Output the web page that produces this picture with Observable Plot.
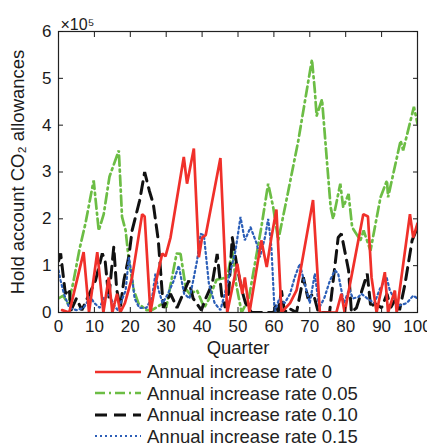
<!DOCTYPE html>
<html>
<head>
<meta charset="utf-8">
<script src="https://cdn.jsdelivr.net/npm/d3@7"></script>
<script src="https://cdn.jsdelivr.net/npm/@observablehq/plot@0.6"></script>
<style>
  body { margin: 0; background: #fff; }
  #legend { margin-left: 95px; font-family: "Liberation Sans", Arial, sans-serif; font-size: 18.5px; color: #222; line-height: 21.5px; margin-top: 3px; }
  #legend .row { display: flex; align-items: center; height: 21.5px; white-space: nowrap; }
  #legend svg { margin-right: 6px; }
</style>
</head>
<body>
<div id="chart"></div>
<div id="legend"></div>
<script>
// Annual increase rate 0 (red, solid) — [quarter, value ×1e5]
const rate0 = [[1,0.05],[3,0],[7,1.29],[8.5,0],[10.8,1.29],[12.5,0],[14,0.75],[15,0],[16.3,0.4],[17.2,0],[18.5,0.2],[20.5,0.75],[23.3,2.1],[24,2.05],[25.6,0],[27,0.6],[28.9,1.26],[29.8,1.2],[31.2,1.6],[34.9,3.32],[35.8,2.75],[37.7,3.5],[39.1,1.18],[40,1.6],[41,1.65],[45.1,3.3],[47,0],[49.8,1.04],[51.2,0.4],[51.9,0.75],[53.2,0],[56.5,1.54],[58,0.97],[59.3,1.6],[60.7,2.2],[62.1,0],[64.5,0.2],[66.3,0.47],[67.3,0.85],[70.9,2.4],[72.8,0],[77.4,0],[78.8,0.4],[79.7,0],[84.9,2.1],[86.2,2.05],[87.2,0.75],[88.6,0],[90.9,0.86],[91.8,0],[93.7,0.47],[94.2,0],[97.9,2.1],[98.8,1.6],[100,1.9]];
// Annual increase rate 0.05 (green, dash-dot)
const rate005 = [[0,0.3],[1.3,0.36],[2.7,0.18],[4,0.6],[5.9,1.37],[7.5,1.9],[9.8,2.82],[11.2,1.75],[12.6,2.1],[14.2,2.9],[16.8,3.46],[17.7,2.04],[18.7,1.75],[19.6,1.11],[21,0.47],[22.3,0.19],[24.5,0.05],[26,0.05],[29.2,0.2],[30,0.1],[32.9,1.26],[34,1.25],[35.5,0.5],[36.5,0.4],[38.6,0.47],[40.6,0.1],[42,0.3],[44,0.7],[47,0.75],[48.4,1.32],[49.5,0.6],[51,0],[53,0.3],[56.5,1.82],[58.4,2.75],[59.8,2.25],[61.2,1.54],[63.5,2.4],[66.8,3.67],[70.6,5.4],[71.4,4.74],[71.9,4.2],[73.4,4.55],[75.8,2.25],[76.5,2.0],[78.5,2.75],[79.3,2.25],[80.8,2.53],[81.8,1.82],[84.1,1.54],[85,1.75],[86.9,1.32],[89.7,2.46],[91.5,2.82],[91.8,2.46],[92.5,2.7],[95.3,3.67],[96,3.46],[99,4.39],[100,4.03]];
// Annual increase rate 0.10 (black, dashed)
const rate010 = [[0,1.1],[0.6,1.26],[1.9,0.4],[3,0.5],[3.5,0.05],[5,0.3],[6.5,0.05],[8,0.3],[10.3,0.68],[12.2,1.26],[13,1.1],[14,0.3],[15.4,1.4],[16.2,0.5],[17.2,0.1],[18.2,0.68],[19.6,1.2],[20.5,1.75],[22.6,2.39],[24,3.0],[25.3,2.6],[26.4,2.32],[27.8,1.54],[29.2,0.1],[30.5,0.3],[31.2,0.4],[33,0.1],[36.3,0.68],[37.5,0.3],[39.8,0.05],[41,0.3],[42.8,0.61],[44.2,1.25],[45.5,0.35],[46.5,0.1],[47.4,0.4],[48.4,1.6],[49.6,1.04],[51,0.5],[52.1,0.2],[53.8,0],[60,0],[60.5,0.18],[61.2,0],[62.1,0.47],[63,0],[64,0.1],[66.3,0],[68.2,0.75],[69.5,0.3],[71,0.4],[72.4,0],[75.5,0],[77.9,1.6],[78.8,1.68],[80.8,0.9],[81.6,0],[83,0.1],[86,0.83],[87,0.1],[88,0.2],[90,0.1],[91.5,0.4],[92.5,0.1],[94,0.3],[95,0.05],[96.5,0.6],[98.5,1.54],[100,1.82]];
// Annual increase rate 0.15 (blue, dotted)
const rate015 = [[0,0.9],[0.6,0.68],[1.5,0.4],[3,0.1],[5,0.05],[7,0.1],[8.9,0.33],[10,0.2],[11.5,0.1],[12.5,0.3],[14,0.4],[15.5,0.15],[16.5,0.05],[18.7,0.47],[19.6,1.18],[20.5,0.75],[21.2,0.3],[22.5,0.1],[24.5,0.1],[26.1,0.33],[27,0.83],[27.8,0.5],[29,0.2],[30.5,0.4],[32.1,0.68],[33.5,1.0],[35,0.4],[36.5,0.3],[37.7,0.75],[38.6,1.11],[39.6,1.68],[40.5,1.65],[41.9,0.61],[43.5,0.2],[45.1,0.05],[47,0.6],[49.3,1.32],[50.7,2.04],[51.9,1.54],[53.5,1.82],[55.2,1.47],[56.1,1.18],[57.5,1.6],[58.4,2.0],[59.3,1.4],[60.2,0],[61.5,0.3],[63,0.2],[64.5,0.4],[65.8,0.75],[67.2,1.04],[68.6,0.61],[70,0.2],[71.4,0.83],[72.6,0.1],[74,0.3],[75.6,0.68],[77,0.9],[77.9,0.83],[79.5,0.2],[81,0.5],[82,0.3],[83.5,0.33],[84.4,0.4],[86,0.3],[88,0.2],[89.5,0.5],[91.4,0.75],[92.3,0.47],[93.5,0.3],[95,0.15],[97,0.2],[98.8,0.36],[100,0.3]];

const xTicks = [0,10,20,30,40,50,60,70,80,90,100];
const yTicks = [0,1,2,3,4,5,6];
const xLabel = "Quarter";
const yLabel = "Hold account CO₂ allowances";
const legendLabels = ["Annual increase rate 0","Annual increase rate 0.05","Annual increase rate 0.10","Annual increase rate 0.15"];

const styles = [
  {stroke: "#f0302a", strokeWidth: 2.7, dash: null},
  {stroke: "#6cbd45", strokeWidth: 2.7, dash: "10,4,2,4"},
  {stroke: "#111111", strokeWidth: 3, dash: "12,7"},
  {stroke: "#2c5fb8", strokeWidth: 2.2, dash: "2,3"}
];
const seriesData = [rate0, rate005, rate010, rate015].map(arr => arr.map(([q, v]) => ({q, v})));
const drawOrder = [1, 2, 3, 0];

const lineMarks = drawOrder.map(i => Plot.line(seriesData[i], {
  x: "q", y: "v", stroke: styles[i].stroke, strokeWidth: styles[i].strokeWidth,
  strokeDasharray: styles[i].dash, strokeLinejoin: "miter", clip: true
}));

const chart = Plot.plot({
  width: 427, height: 358,
  marginLeft: 58, marginRight: 10, marginTop: 31, marginBottom: 46,
  style: {fontFamily: "'Liberation Sans', Arial, sans-serif", fontSize: "17px", color: "#1a1a1a", background: "white", overflow: "visible"},
  x: {domain: [0, 100]},
  y: {domain: [0, 6]},
  marks: [
    ...lineMarks,
    Plot.frame({stroke: "#222", strokeWidth: 1.2}),
    Plot.axisX(xTicks, {anchor: "bottom", tickSize: -5, tickPadding: 12, label: null}),
    Plot.axisX(xTicks, {anchor: "top", tickSize: -5, tickFormat: () => "", label: null}),
    Plot.axisY(yTicks, {anchor: "left", tickSize: -5, tickPadding: 12, label: null}),
    Plot.axisY(yTicks, {anchor: "right", tickSize: -5, tickFormat: () => "", label: null}),
    Plot.text([xLabel], {frameAnchor: "bottom", dy: 36, fontSize: 18.5, textAnchor: "middle", lineAnchor: "middle"}),
    Plot.text([yLabel], {frameAnchor: "left", dx: -40, rotate: -90, fontSize: 18.5, textAnchor: "middle", lineAnchor: "middle"}),
    Plot.text(["×10⁵"], {frameAnchor: "top-left", dx: 2, dy: -13, textAnchor: "start", fontSize: 16})
  ]
});
document.getElementById("chart").appendChild(chart);

const legend = document.getElementById("legend");
legendLabels.forEach((label, i) => {
  const s = styles[i];
  const row = document.createElement("div");
  row.className = "row";
  row.innerHTML = `<svg width="46" height="10"><line x1="0" x2="46" y1="5" y2="5" stroke="${s.stroke}" stroke-width="${s.strokeWidth}" ${s.dash ? `stroke-dasharray="${s.dash}"` : ""}/></svg><span>${label}</span>`;
  legend.appendChild(row);
});
</script>
</body>
</html>
